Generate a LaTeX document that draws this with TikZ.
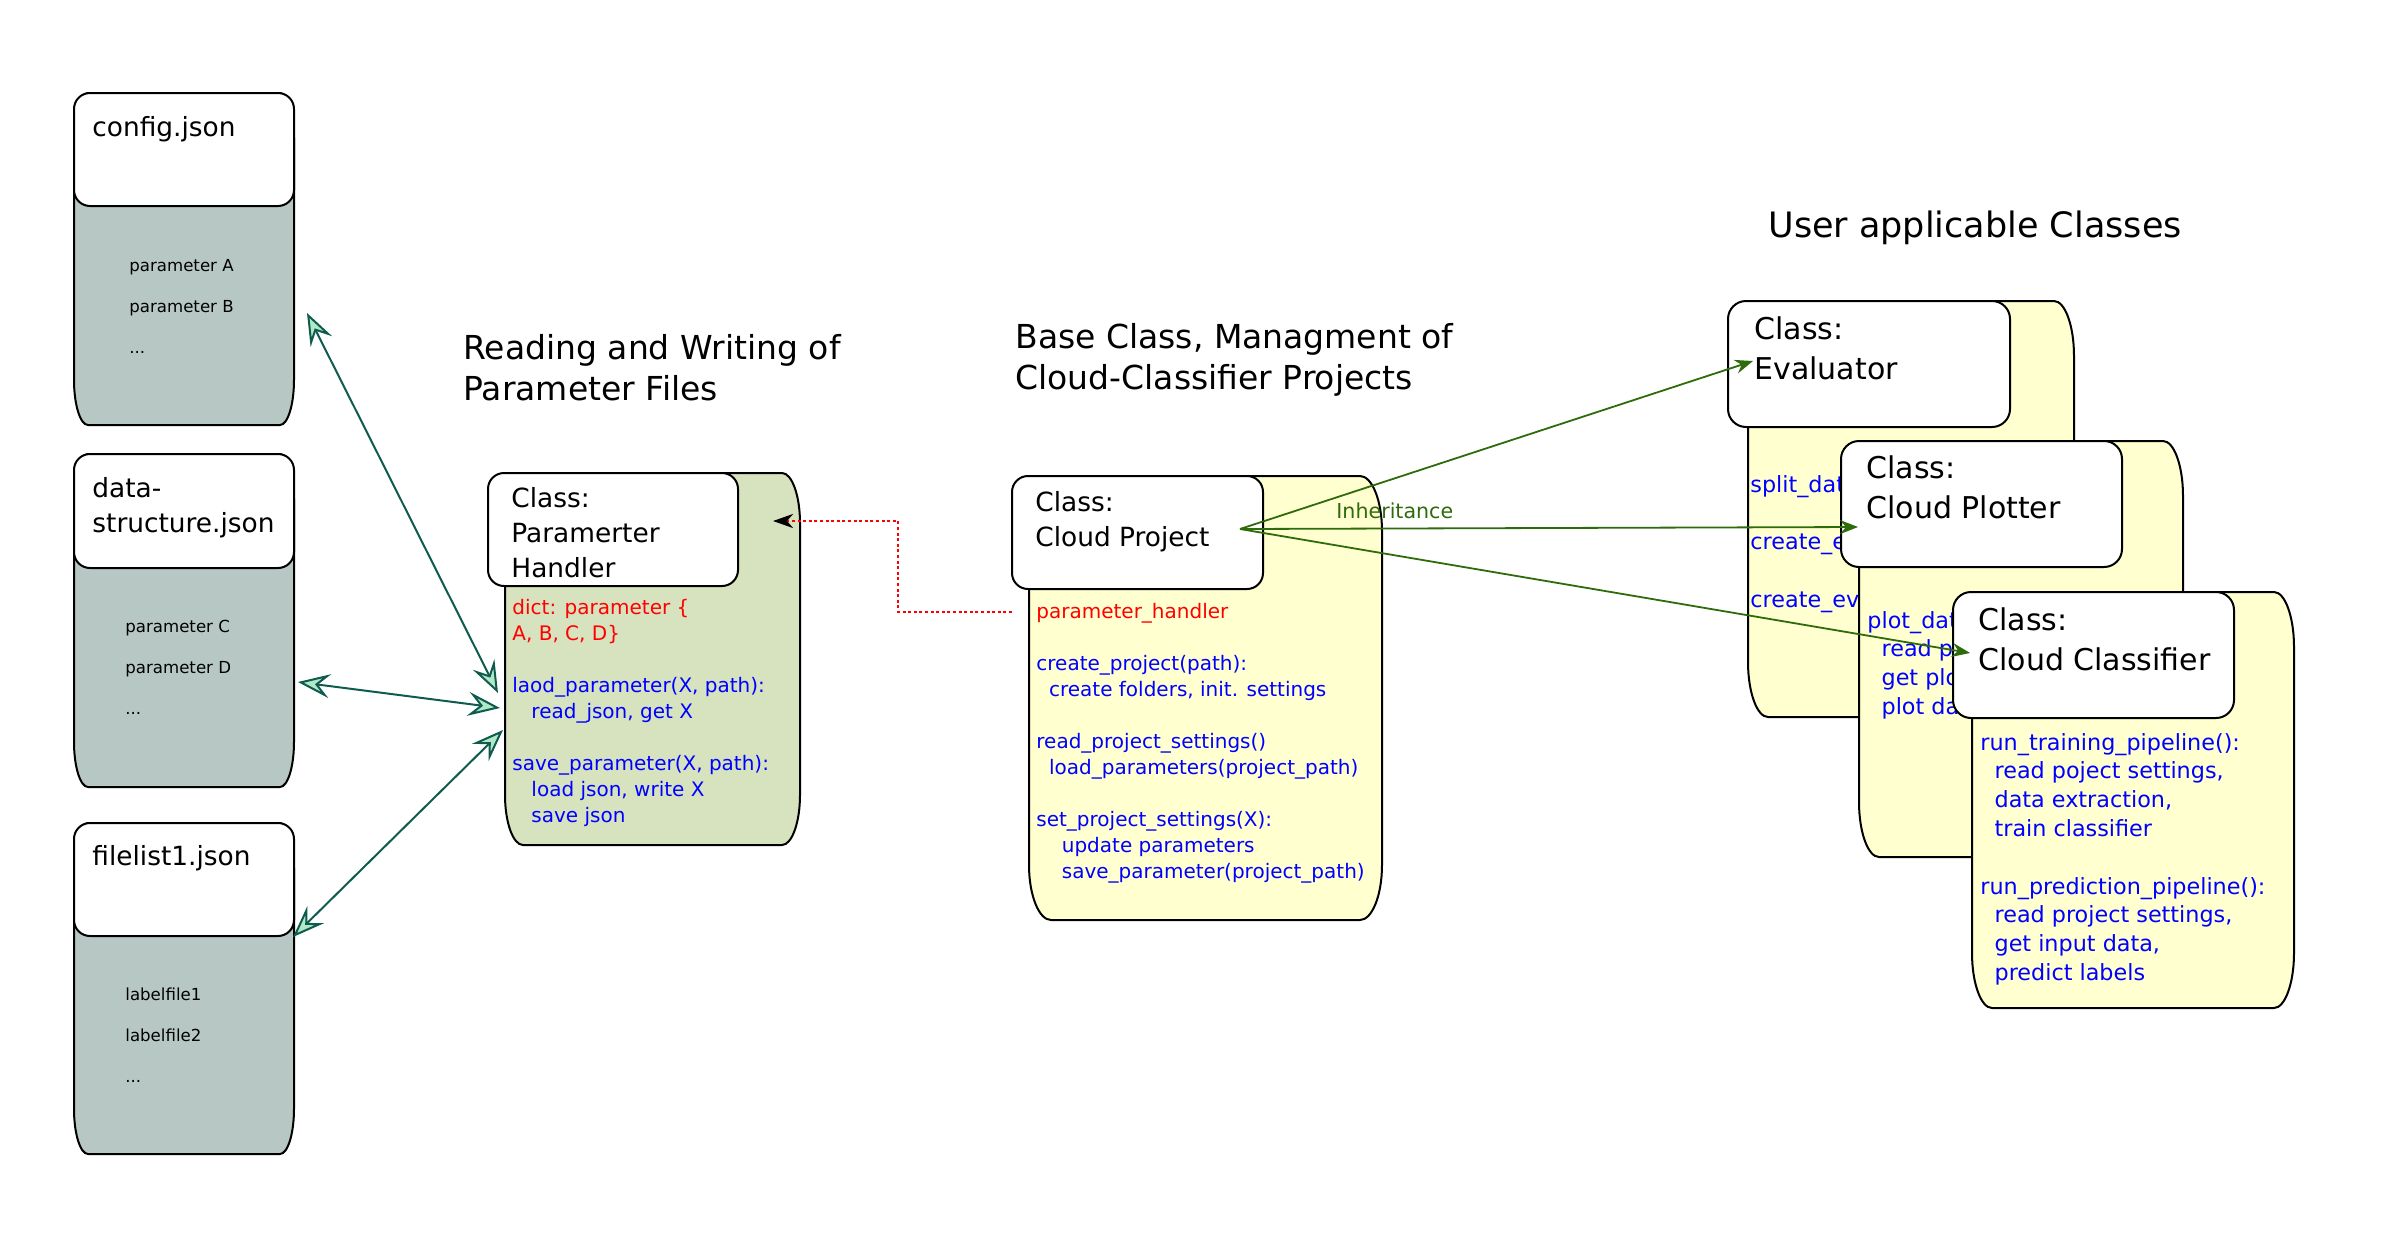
\documentclass[tikz,border=0pt]{standalone}
\usepackage{fontspec}
\setmainfont{DejaVu Sans}
\usetikzlibrary{arrows.meta,fit}
\definecolor{graybody}{HTML}{B7C8C4}
\definecolor{phgreen}{HTML}{D7E3BF}
\definecolor{yel}{HTML}{FFFFD0}
\definecolor{tealc}{HTML}{0F5C4E}
\definecolor{mint}{HTML}{AFE9C6}
\definecolor{grn}{HTML}{2E6B0A}
\definecolor{txtblue}{HTML}{0000FF}
\definecolor{txtred}{HTML}{FF0000}
\newcommand\fHead{\fontsize{13.2pt}{17.5pt}\selectfont}
\newcommand\fHeadR{\fontsize{15pt}{20pt}\selectfont}
\newcommand\fTitle{\fontsize{16.5pt}{20.5pt}\selectfont}
\newcommand\fTitleR{\fontsize{17.5pt}{21pt}\selectfont}
\newcommand\fBodyL{\fontsize{10pt}{13pt}\selectfont}
\newcommand\fBodyR{\fontsize{11.15pt}{14.4pt}\selectfont}
\newcommand\fParam{\fontsize{8.3pt}{20.6pt}\selectfont}
\newcommand\fInh{\fontsize{10.3pt}{12pt}\selectfont}
\newcommand\txl[1]{\hbox{#1}}
% style, x1, y1, x2, y2, rx, ry
\newcommand\docbody[7]{%
  \path[#1] (#2+#6,#3) -- (#4-#6,#3)
    .. controls (#4-0.45*#6,#3) and (#4,#3+0.45*#7) .. (#4,#3+#7)
    -- (#4,#5-#7)
    .. controls (#4,#5-0.45*#7) and (#4-0.45*#6,#5) .. (#4-#6,#5)
    -- (#2+#6,#5)
    .. controls (#2+0.45*#6,#5) and (#2,#5-0.45*#7) .. (#2,#5-#7)
    -- (#2,#3+#7)
    .. controls (#2,#3+0.45*#7) and (#2+0.45*#6,#3) .. (#2+#6,#3) -- cycle;}
\begin{document}
\begin{tikzpicture}[x=0.5pt,y=-0.5pt,
  hdr/.style={draw=black,fill=white,line width=1pt,rounded corners=8pt,inner sep=0pt},
  chdr/.style={hdr,rounded corners=9pt},
  boxn/.style={inner sep=0pt},
  lbl/.style={anchor=base west,inner sep=0pt},
  bodyline/.style={draw=black,line width=1pt},
  tealarr/.style={draw=tealc,line width=1pt,
    {Stealth[length=16pt,width=12pt,inset=6pt,fill=mint]}-{Stealth[length=16pt,width=12pt,inset=6pt,fill=mint]}},
  grnarr/.style={draw=grn,line width=0.9pt,-{Stealth[length=9pt,width=7pt,inset=3pt]}},
  reddot/.style={draw=txtred,line width=1.3pt,dash pattern=on 1.5pt off 1.3pt,
    -{Stealth[length=10pt,width=7pt,inset=3pt,color=black]}}]
\useasboundingbox (0,0) rectangle (2382,1253);

% ---------- parameter files ----------
\docbody{bodyline,fill=graybody}{74}{93}{294}{425}{14}{45}
\node[boxn,fit={(74,93)(294,425)}] (cfgB) {};
\node[hdr,fit={(74,93)(294,206)}] (cfgH) {};
\node[lbl,font=\fHead] (cfgT) at (92,136) {config.json};
\node[lbl,font=\fParam] (cfgP) at (129,271) {\vtop{\txl{parameter A}\txl{parameter B}\txl{...}}};

\docbody{bodyline,fill=graybody}{74}{454}{294}{787}{14}{45}
\node[boxn,fit={(74,454)(294,787)}] (dsB) {};
\node[hdr,fit={(74,454)(294,568)}] (dsH) {};
\node[lbl,font=\fHead] (dsT) at (92,497) {\vtop{\txl{data-}\txl{structure.json}}};
\node[lbl,font=\fParam] (dsP) at (125,632) {\vtop{\txl{parameter C}\txl{parameter D}\txl{...}}};

\docbody{bodyline,fill=graybody}{74}{823}{294}{1154}{14}{45}
\node[boxn,fit={(74,823)(294,1154)}] (flB) {};
\node[hdr,fit={(74,823)(294,936)}] (flH) {};
\node[lbl,font=\fHead] (flT) at (92,865) {filelist1.json};
\node[lbl,font=\fParam] (flP) at (125,1000) {\vtop{\txl{labelfile1}\txl{labelfile2}\txl{...}}};

% ---------- parameter handler ----------
\node[lbl,font=\fTitle] (phTitle) at (463,359) {\vtop{\txl{Reading and Writing of}\txl{Parameter Files}}};
\docbody{bodyline,fill=phgreen}{505}{473}{800}{845}{18}{50}
\node[boxn,fit={(505,473)(800,845)}] (phB) {};
\node[hdr,fit={(488,473)(738,586)}] (phH) {};
\node[lbl,font=\fHead] (phT) at (511,507) {\vtop{\txl{Class:}\txl{Paramerter}\txl{Handler}}};
\node[lbl,font=\fBodyL,text=txtblue] (phM) at (512,614) {\vtop{%
  \txl{\color{txtred}dict: parameter \{}%
  \txl{\color{txtred}A, B, C, D\}}%
  \txl{}%
  \txl{laod\_parameter(X, path):}%
  \txl{\ \ \ read\_json, get X}%
  \txl{}%
  \txl{save\_parameter(X, path):}%
  \txl{\ \ \ load json, write X}%
  \txl{\ \ \ save json}}};

% ---------- cloud project ----------
\node[lbl,font=\fTitle] (cpTitle) at (1015,348) {\vtop{\txl{Base Class, Managment of}\txl{Cloud-Classifier Projects}}};
\docbody{bodyline,fill=yel}{1029}{476}{1382}{920}{22}{55}
\node[boxn,fit={(1029,476)(1382,920)}] (cpB) {};
\node[hdr,fit={(1012,476)(1263,589)}] (cpH) {};
\node[lbl,font=\fHead] (cpT) at (1035,511) {\vtop{\txl{Class:}\txl{Cloud Project}}};
\node[lbl,font=\fBodyL,text=txtblue] (cpM) at (1036,618) {\vtop{%
  \txl{\color{txtred}parameter\_handler}%
  \txl{}%
  \txl{create\_project(path):}%
  \txl{\ \ create folders, init. settings}%
  \txl{}%
  \txl{read\_project\_settings()}%
  \txl{\ \ load\_parameters(project\_path)}%
  \txl{}%
  \txl{set\_project\_settings(X):}%
  \txl{\ \ \ \ update parameters}%
  \txl{\ \ \ \ save\_parameter(project\_path)}}};

% ---------- user classes ----------
\node[lbl,font=\fTitleR] (ucTitle) at (1768,237) {User applicable Classes};

\docbody{bodyline,fill=yel}{1748}{301}{2074}{717}{20}{55}
\node[boxn,fit={(1748,301)(2074,717)}] (evB) {};
\node[chdr,fit={(1728,301)(2010,427)}] (evH) {};
\node[lbl,font=\fHeadR] (evT) at (1754,339) {\vtop{\txl{Class:}\txl{Evaluator}}};
\node[lbl,font=\fBodyR,text=txtblue] (evM) at (1750,492) {\vtop{%
  \txl{split\_dat}\txl{}\txl{create\_e}\txl{}\txl{create\_ev}}};

\docbody{bodyline,fill=yel}{1859}{441}{2183}{857}{20}{55}
\node[boxn,fit={(1859,441)(2183,857)}] (plB) {};
\node[chdr,fit={(1841,441)(2122,567)}] (plH) {};
\node[lbl,font=\fHeadR] (plT) at (1866,478) {\vtop{\txl{Class:}\txl{Cloud Plotter}}};
\node[lbl,font=\fBodyR,text=txtblue] (plM) at (1867,628) {\vtop{%
  \txl{plot\_dat}\txl{\ \ read p}\txl{\ \ get plo}\txl{\ \ plot da}}};

\docbody{bodyline,fill=yel}{1972}{592}{2294}{1008}{20}{55}
\node[boxn,fit={(1972,592)(2294,1008)}] (clB) {};
\node[chdr,fit={(1953,592)(2234,718)}] (clH) {};
\node[lbl,font=\fHeadR] (clT) at (1978,630) {\vtop{\txl{Class:}\txl{Cloud Classifier}}};
\node[lbl,font=\fBodyR,text=txtblue] (clM) at (1980,750) {\vtop{%
  \txl{run\_training\_pipeline():}%
  \txl{\ \ read poject settings,}%
  \txl{\ \ data extraction,}%
  \txl{\ \ train classifier}%
  \txl{}%
  \txl{run\_prediction\_pipeline():}%
  \txl{\ \ read project settings,}%
  \txl{\ \ get input data,}%
  \txl{\ \ predict labels}}};

% ---------- connectors ----------
\coordinate (cfgA) at (307,313);
\coordinate (phA1) at (498,693);
\coordinate (dsA) at (298,682);
\coordinate (phA2) at (500,708);
\coordinate (flA) at (293,937);
\coordinate (phA3) at (503,730);
\draw[tealarr] (cfgA) -- (phA1);
\draw[tealarr] (dsA) -- (phA2);
\draw[tealarr] (flA) -- (phA3);

\coordinate (cpDot) at (1012,612);
\coordinate (phTip) at (773,521);
\draw[reddot] (cpDot) -- ++(-114,0) |- (phTip);

\coordinate (cpOut) at (1240,529);
\coordinate (evIn) at (1753,361);
\coordinate (plIn) at (1858,527);
\coordinate (clIn) at (1970,653);
\draw[grnarr] (cpOut) -- (evIn);
\draw[grnarr] (cpOut) -- (plIn);
\draw[grnarr] (cpOut) -- (clIn);
\node[lbl,font=\fInh,text=grn] (inh) at (1336,518) {Inheritance};
\end{tikzpicture}
\end{document}
